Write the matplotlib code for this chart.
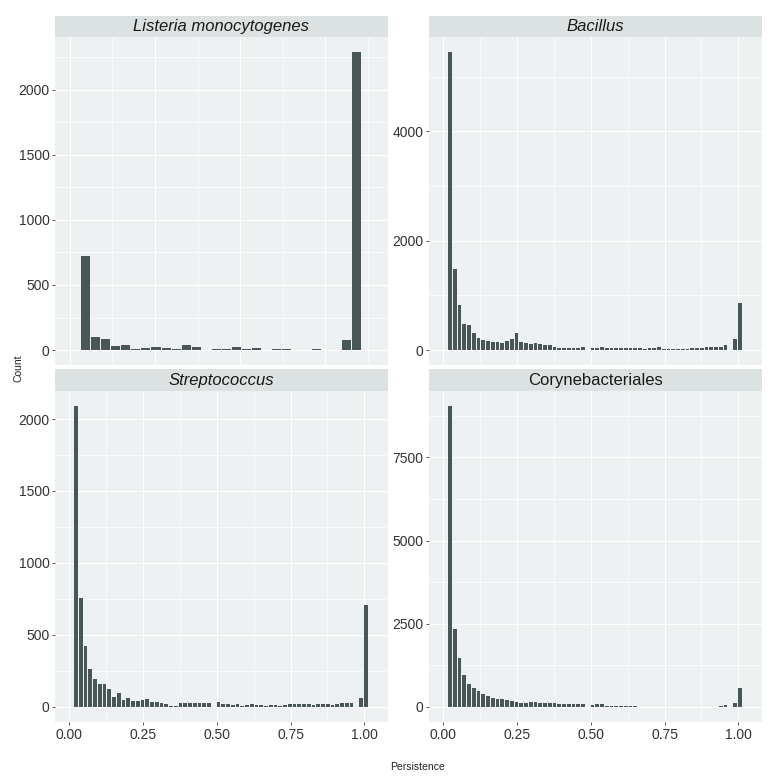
import matplotlib
matplotlib.use("Agg")
import matplotlib.pyplot as plt
import numpy as np

# ---------------- data ----------------
titles = ["Listeria monocytogenes", "Bacillus", "Streptococcus", "Corynebacteriales"]
title_italic = [True, True, True, False]

listeria_counts = [720, 97, 84, 34, 42, 6, 15, 24, 18, 5, 36, 20, 0, 5,
                   5, 23, 5, 13, 0, 8, 8, 0, 0, 8, 0, 0, 80, 2290]

bacillus_counts = [5455, 1485, 825, 473, 450, 321, 218, 176, 164, 152, 139, 133,
                   170, 212, 321, 139, 127, 115, 121, 103, 91, 85, 48, 36, 36, 36,
                   36, 36, 55, 0, 40, 45, 60, 45, 40, 35, 30, 30, 30, 35, 45, 20,
                   35, 40, 55, 15, 20, 25, 25, 25, 25, 30, 30, 35, 60, 60, 60, 60,
                   100, 0, 200, 855]

strep_counts = [2090, 760, 420, 265, 195, 160, 158, 125, 72, 95, 50, 60, 42, 42,
                45, 55, 35, 32, 30, 18, 8, 5, 25, 25, 25, 25, 25, 25, 25, 0, 32,
                20, 20, 15, 20, 10, 12, 18, 15, 12, 8, 15, 12, 8, 12, 18, 20, 18,
                20, 18, 15, 22, 22, 18, 15, 18, 28, 25, 30, 0, 65, 710]

coryne_counts = [9045, 2340, 1486, 954, 683, 562, 472, 402, 331, 261, 250, 230,
                 200, 180, 160, 130, 130, 150, 140, 130, 130, 120, 110, 100, 80,
                 80, 80, 80, 100, 0, 70, 90, 80, 20, 18, 16, 15, 15, 14, 14, 13,
                 12, 12, 11, 10, 10, 9, 9, 8, 8, 8, 8, 8, 8, 9, 10, 12, 30, 50,
                 0, 110, 562]

all_counts = [listeria_counts, bacillus_counts, strep_counts, coryne_counts]

y_major = [[0, 500, 1000, 1500, 2000], [0, 2000, 4000],
           [0, 500, 1000, 1500, 2000], [0, 2500, 5000, 7500]]
y_minor_step = [250, 1000, 250, 1250]

x_ticks = [0.0, 0.25, 0.5, 0.75, 1.0]
x_tick_labels = ["0.00", "0.25", "0.50", "0.75", "1.00"]

# bin edges
listeria_edges = np.linspace(0.0315, 0.858, len(listeria_counts) + 1)
fine_edges = np.linspace(0.015, 1.013, len(bacillus_counts) + 1)
all_edges = [listeria_edges, fine_edges, fine_edges, fine_edges]

# ---------------- style ----------------
BG = "#EDF1F2"
STRIP = "#DCE1E1"
BAR = "#4A5556"
TXT = "#333333"
FONT = "Liberation Sans"

plt.rcParams["font.family"] = [FONT, "DejaVu Sans"]

W, H = 770, 778
fig = plt.figure(figsize=(W / 100, H / 100), dpi=100)
fig.patch.set_facecolor("white")

# panel boxes in pixels: (left, top, right, bottom), strip top
panels = [
    (55, 37, 388, 365, 16),
    (429, 37, 762, 365, 16),
    (55, 391, 388, 722, 369),
    (429, 391, 762, 722, 369),
]


def frac_rect(l, t, r, b):
    return [l / W, 1 - b / H, (r - l) / W, (b - t) / H]


for i, (l, t, r, b, st) in enumerate(panels):
    ax = fig.add_axes(frac_rect(l, t, r, b))
    ax.set_facecolor(BG)
    counts = np.array(all_counts[i], dtype=float)
    edges = all_edges[i]
    w = edges[1] - edges[0]
    frac = 0.9 if i == 0 else 0.8
    ax.bar(edges[:-1] + w * (1 - frac) / 2, counts, width=w * frac,
           align="edge", color=BAR, linewidth=0, zorder=3)

    ymax = counts.max()
    ax.set_ylim(-0.05 * ymax, 1.05 * ymax)
    if i == 0:
        ax.set_xlim(-0.044, 0.935)
        xmaj = [0.0, 0.25, 0.5, 0.75]
    else:
        ax.set_xlim(-0.048, 1.08)
        xmaj = x_ticks
    xmin = [0.125, 0.375, 0.625, 0.875]
    ax.set_xticks(xmaj)
    ax.set_xticks(xmin, minor=True)
    ax.set_yticks(y_major[i])
    ystep = y_minor_step[i]
    ax.set_yticks(np.arange(ystep, 1.05 * ymax, 2 * ystep), minor=True)

    ax.grid(True, which="major", color="white", linewidth=0.8, zorder=1)
    ax.grid(True, which="minor", color="white", linewidth=0.45, zorder=1)
    ax.set_axisbelow(True)
    for s in ax.spines.values():
        s.set_visible(False)

    ax.tick_params(axis="y", which="major", length=2.5, width=0.7, color="#555555",
                   labelsize=10, labelcolor=TXT, pad=1.5)
    ax.tick_params(axis="y", which="minor", length=0)
    if i >= 2:
        ax.set_xticklabels(x_tick_labels)
        ax.tick_params(axis="x", which="major", length=2.5, width=0.7, color="#555555",
                       labelsize=10, labelcolor=TXT, pad=2)
        ax.tick_params(axis="x", which="minor", length=0)
    else:
        ax.tick_params(axis="x", which="both", length=0, labelbottom=False)

    # strip
    sax = fig.add_axes(frac_rect(l, st, r, t))
    sax.set_facecolor(STRIP)
    sax.set_xticks([])
    sax.set_yticks([])
    for s in sax.spines.values():
        s.set_visible(False)
    sax.text(0.5, 0.5, titles[i], ha="center", va="center", fontsize=12,
             style="italic" if title_italic[i] else "normal", color="#1A1A1A",
             transform=sax.transAxes)

fig.text(18 / W, 1 - 368 / H, "Count", rotation=90, ha="center", va="center",
         fontsize=7.5, color="#222222")
fig.text(418 / W, 1 - 767 / H, "Persistence", ha="center", va="center",
         fontsize=7.5, color="#222222")

fig.savefig("out.png", dpi=100, facecolor="white")
